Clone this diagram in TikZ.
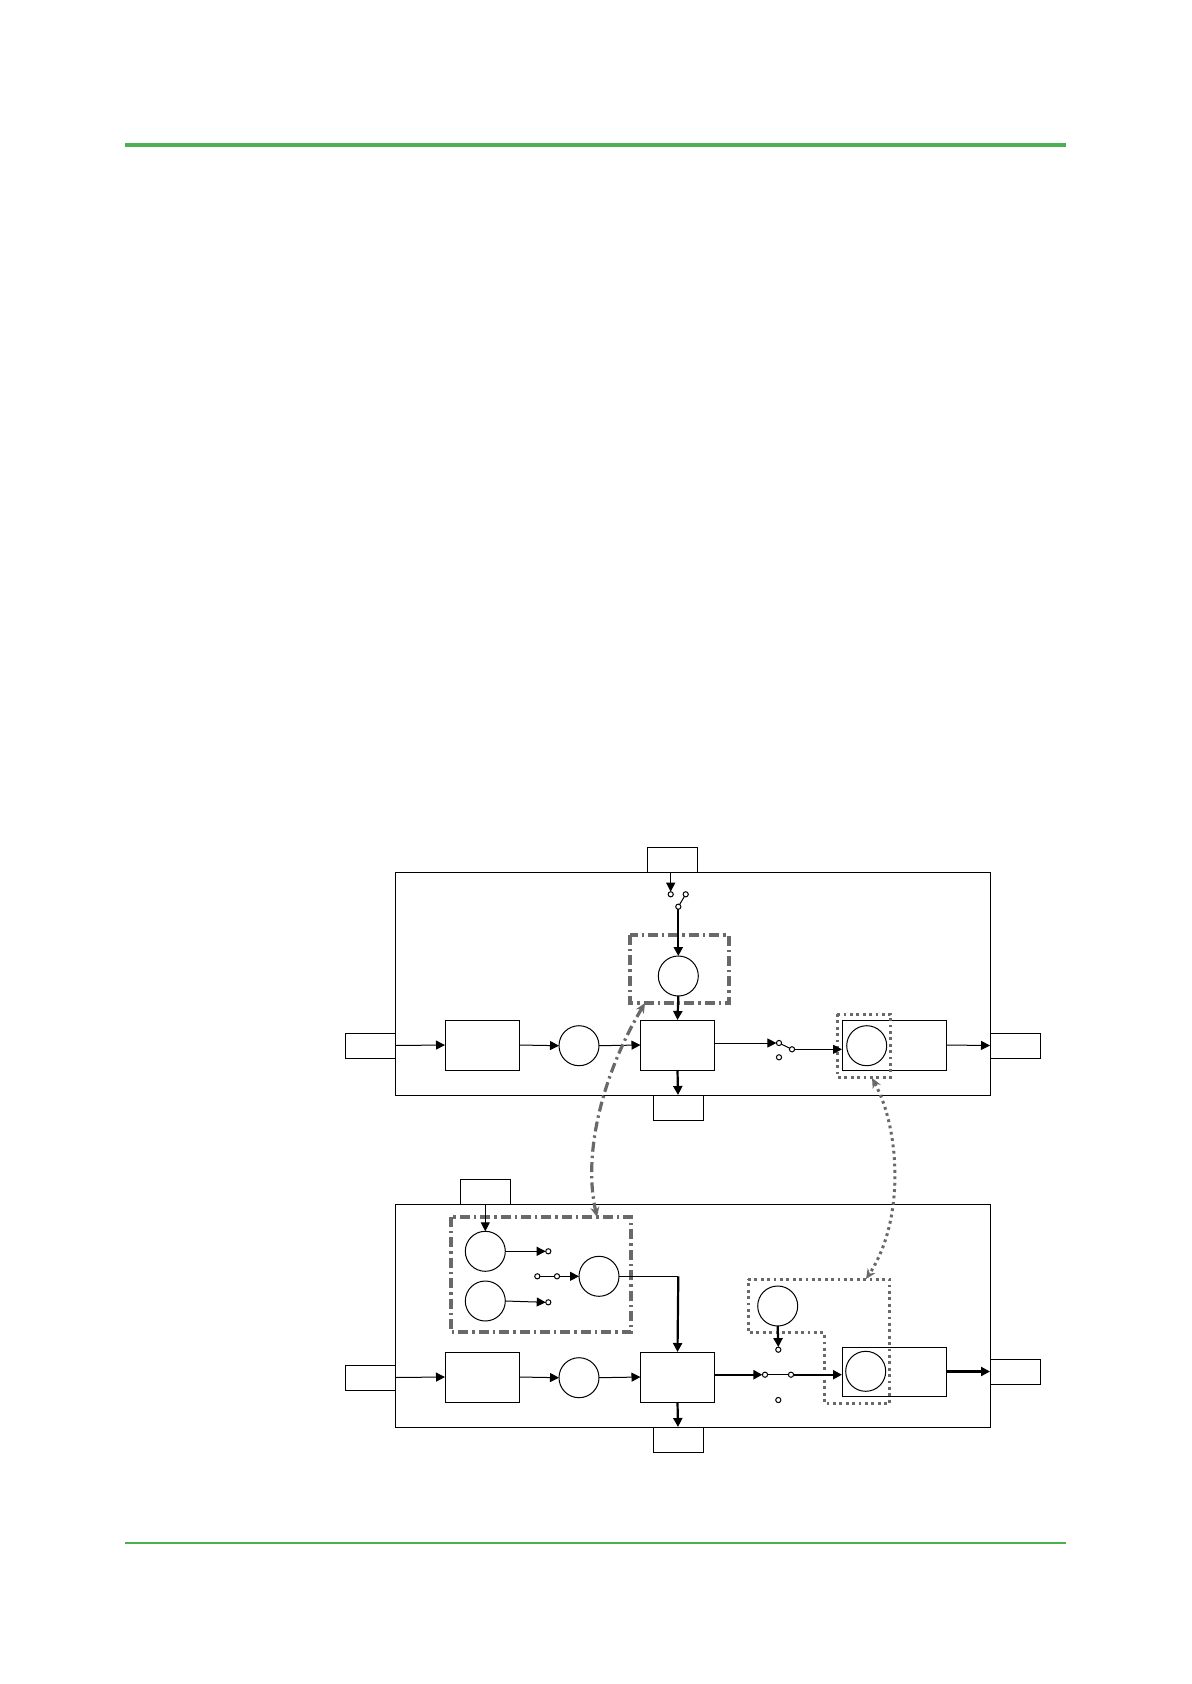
\documentclass[tikz,border=0pt]{standalone}
\usetikzlibrary{arrows.meta}

\definecolor{rulegreen}{RGB}{76,176,80}
\definecolor{linkgray}{RGB}{105,105,105}

\tikzset{
  blk/.style={draw, line width=0.5pt, minimum width=37pt, minimum height=25pt, inner sep=0pt, outer sep=0pt},
  wideblk/.style={blk, minimum width=52pt},
  tab/.style={draw, line width=0.5pt, minimum width=25pt, minimum height=12.5pt, inner sep=0pt, outer sep=0pt},
  unit/.style={draw, circle, line width=0.5pt, minimum size=20pt, inner sep=0pt, outer sep=0pt},
  contact/.style={draw, circle, fill=white, line width=0.5pt, minimum size=2.6pt, inner sep=0pt, outer sep=0pt},
  arr/.style={-{Triangle[length=4.5pt,width=4.5pt]}},
  sig/.style={line width=0.5pt},
  bus/.style={line width=1.1pt},
  ddash/.style={draw=linkgray, line width=1.6pt, dash pattern=on 5pt off 2pt on 1.2pt off 2pt},
  ddot/.style={draw=linkgray, line width=1.5pt, dash pattern=on 1.4pt off 1.8pt},
  link/.style={{Stealth[length=5pt,width=4.5pt]}-{Stealth[length=5pt,width=4.5pt]}}
}

\begin{document}
\begin{tikzpicture}[x=0.5pt, y=-0.5pt]
    \useasboundingbox (0,0) rectangle (1191,1684);
    % page rules
    \draw[rulegreen, line width=2pt] (125,145) -- (1066,145);
    \draw[rulegreen, line width=1pt] (125,1543) -- (1066,1543);

    % upper module
    \draw[sig] (395,872) rectangle (990,1095);
    \node[tab] (inU) at (370,1045.5) {};
    \node[tab] (ctlU) at (672,859.5) {};
    \node[tab] (outU) at (1015,1045.5) {};
    \node[tab] (auxU) at (678,1107.5) {};
    \node[blk] (preU) at (482,1045) {};
    \node[unit] (mixU) at (579,1045.7) {};
    \node[blk] (coreU) at (677.5,1045) {};
    \node[unit] (srcU) at (678.3,976) {};
    \node[wideblk] (endU) at (894,1045) {};
    \node[unit] (subU) at (866.7,1045.7) {};
    \node[contact] (sa1) at (670.7,894.3) {};
    \node[contact] (sa2) at (685.7,894.3) {};
    \node[contact] (sa3) at (678.3,906.7) {};
    \node[contact] (sb1) at (779,1043) {};
    \node[contact] (sb2) at (792,1049.3) {};
    \node[contact] (sb3) at (779,1057.3) {};
    % groups
    \draw[ddash] (630,935) rectangle (729,1003);
    \draw[ddot] (837,1014) rectangle (890.7,1077);
    % signal path
    \draw[sig, arr] (inU.east) -- (preU.west);
    \draw[sig, arr] (preU.east) -- (mixU.west);
    \draw[sig, arr] (mixU.east) -- (coreU.west);
    \draw[sig, arr] (sa1 |- ctlU.south) -- (sa1.north);
    \draw[sig] (sa3) -- (sa2);
    \draw[bus, arr] (sa3.south) -- (srcU.north);
    \draw[bus, arr] (srcU.south) -- (coreU.north);
    \draw[bus, arr] (coreU.south) -- (auxU.north);
    \draw[sig, arr] (coreU.east |- sb1) -- (sb1.west);
    \draw[sig] (sb1) -- (sb2);
    \draw[sig, arr] (sb2.east) -- (sb2 -| endU.west);
    \draw[sig, arr] (endU.east) -- (outU.west);

    % lower module
    \draw[sig] (395,1204) rectangle (990,1427);
    \node[tab] (inL) at (370,1377.5) {};
    \node[tab] (ctlL) at (485,1191.5) {};
    \node[tab] (outL) at (1015,1371.5) {};
    \node[tab] (auxL) at (678,1439.5) {};
    \node[blk] (preL) at (482,1377) {};
    \node[unit] (mixL) at (579,1377.7) {};
    \node[blk] (coreL) at (677.5,1377) {};
    \node[unit] (srcP) at (485.3,1251.3) {};
    \node[unit] (srcQ) at (485.3,1301) {};
    \node[unit] (srcR) at (599,1276.3) {};
    \node[unit] (srcD) at (777.7,1306) {};
    \node[blk, minimum width=52pt, minimum height=24.5pt] (endL) at (894,1371.5) {};
    \node[unit] (subL) at (865.7,1371.3) {};
    \node[contact] (cp) at (548.3,1251.3) {};
    \node[contact] (cq) at (548.3,1302.3) {};
    \node[contact] (cm1) at (537.3,1276.3) {};
    \node[contact] (cm2) at (557,1276.3) {};
    \node[contact] (sc1) at (765,1374.7) {};
    \node[contact] (sc2) at (791,1374.7) {};
    \node[contact] (sc3) at (778.3,1349.7) {};
    \node[contact] (sc4) at (778.3,1400) {};
    % groups
    \draw[ddash] (451,1217) rectangle (631,1332);
    \draw[ddot] (748,1279) -- (889.7,1279) -- (889.7,1403.3) -- (824.3,1403.3)
        -- (824.3,1332.7) -- (748,1332.7) -- cycle;
    % signal path
    \draw[sig, arr] (inL.east) -- (preL.west);
    \draw[sig, arr] (preL.east) -- (mixL.west);
    \draw[sig, arr] (mixL.east) -- (coreL.west);
    \draw[sig, arr] (srcP |- ctlL.south) -- (srcP.north);
    \draw[sig, arr] (srcP.east) -- (cp.west);
    \draw[sig, arr] (srcQ.east) -- (cq.west);
    \draw[sig] (cm1) -- (cm2);
    \draw[sig, arr] (cm2.east) -- (srcR.west);
    \draw[sig] (srcR.east) -- (678.3,1276.3);
    \draw[bus, arr] (678.3,1276.3) -- (coreL.north);
    \draw[bus, arr] (coreL.south) -- (auxL.north);
    \draw[bus, arr] (srcD.south) -- (sc3.north);
    \draw[bus, arr] (coreL.east |- sc1) -- (sc1.west);
    \draw[sig] (sc1) -- (sc2);
    \draw[bus, arr] (sc2.east) -- (sc2 -| endL.west);
    \draw[bus, arr] (endL.east) -- (outL.west);

    % links between the modules
    \coordinate (lkA) at (645,1003);
    \coordinate (lkB) at (597,1217);
    \coordinate (lkC) at (872,1078);
    \coordinate (lkD) at (866,1279);
    \draw[ddash, link, linkgray] (lkA) .. controls (605,1070) and (582,1150) .. (lkB);
    \draw[ddot, link, linkgray] (lkC) .. controls (900,1130) and (905,1220) .. (lkD);
\end{tikzpicture}
\end{document}
